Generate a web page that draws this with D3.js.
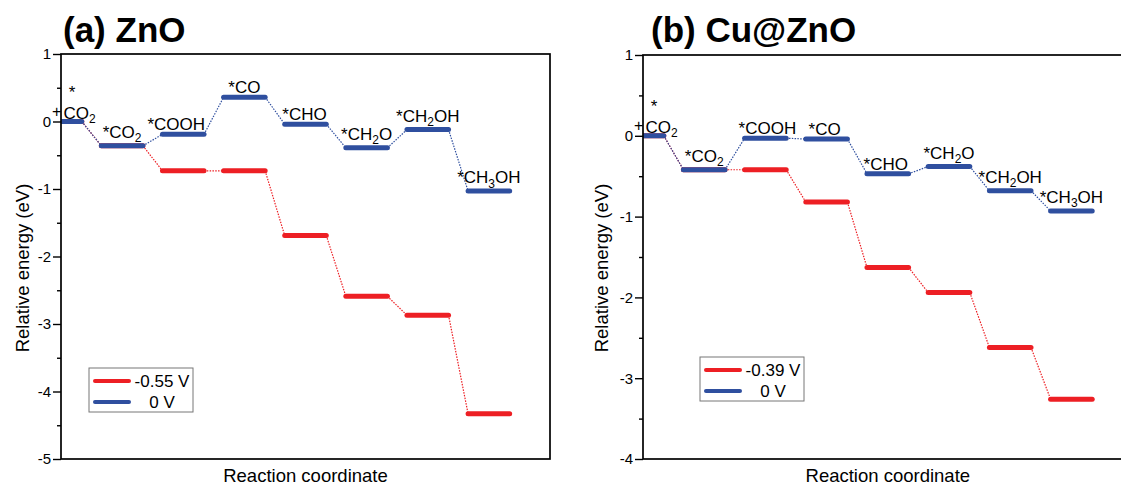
<!DOCTYPE html>
<html>
<head>
<meta charset="utf-8">
<script src="https://cdn.jsdelivr.net/npm/d3@7"></script>
<style>
  html, body { margin: 0; padding: 0; background: #fff; }
  svg { display: block; font-family: "Liberation Sans", Arial, sans-serif; }
</style>
</head>
<body>
<svg id="chart" width="1121" height="486"></svg>
<script>
// intermediates along the reaction path (same order in both panels)
const steps = ["* + CO_2", "*CO_2", "*COOH", "*CO", "*CHO", "*CH_2O", "*CH_2OH", "*CH_3OH"];

// (a) ZnO
const znoZero = [0, -0.36, -0.19, 0.36, -0.04, -0.39, -0.12, -1.03];
const znoBias = [0, -0.36, -0.73, -0.73, -1.69, -2.59, -2.87, -4.33];
const znoBiasLabel = "-0.55 V";
const znoTicks = [1, 0, -1, -2, -3, -4, -5];

// (b) Cu@ZnO
const cuZero = [0, -0.42, -0.03, -0.04, -0.47, -0.38, -0.68, -0.93];
const cuBias = [0, -0.42, -0.42, -0.82, -1.63, -1.94, -2.62, -3.26];
const cuBiasLabel = "-0.39 V";
const cuTicks = [1, 0, -1, -2, -3, -4];

const RED = "#ed1f24";
const BLUE = "#2f4f9f";
const barHalf = 0.34; // half width of a level, in step units

const svg = d3.select("#chart");

function drawPanel(cfg) {
    const x = d3.scaleLinear().domain([0, 8]).range(cfg.xRange);
    const y = d3.scaleLinear().domain([d3.min(cfg.ticks), d3.max(cfg.ticks)]).range(cfg.yRange);
    const [left, right] = cfg.xRange;
    const [bottom, top] = cfg.yRange;

    const g = svg.append("g");
    const clipId = "clip-" + cfg.id;
    g.append("clipPath").attr("id", clipId)
        .append("rect").attr("x", left).attr("y", top).attr("width", right - left).attr("height", bottom - top);

    // title
    g.append("text").attr("x", cfg.titleX).attr("y", 42)
        .attr("font-size", 35).attr("font-weight", "bold").text(cfg.title);

    // y axis with minor ticks
    const minor = d3.range(d3.min(cfg.ticks) + 0.5, d3.max(cfg.ticks), 1);
    g.append("g").attr("transform", `translate(${left},0)`)
        .call(d3.axisLeft(y).tickValues(minor).tickSize(4).tickFormat(""))
        .call((a) => a.select(".domain").remove())
        .selectAll("line").attr("stroke-width", 1.4);
    g.append("g").attr("transform", `translate(${left},0)`)
        .call(d3.axisLeft(y).tickValues(cfg.ticks).tickSize(8).tickPadding(2).tickFormat((d) => String(d)))
        .call((a) => a.select(".domain").remove())
        .call((a) => a.selectAll("line").attr("stroke-width", 1.4))
        .selectAll("text").attr("font-size", 15).attr("font-family", "Liberation Sans, Arial, sans-serif");

    const plot = g.append("g").attr("clip-path", `url(#${clipId})`);

    function series(values, color) {
        const conn = d3.pairs(values.map((v, i) => [i, v]));
        plot.append("g").selectAll("line").data(conn).join("line")
            .attr("x1", (d) => x(d[0][0] + barHalf)).attr("y1", (d) => y(d[0][1]))
            .attr("x2", (d) => x(d[1][0] - barHalf)).attr("y2", (d) => y(d[1][1]))
            .attr("stroke", color).attr("stroke-width", 1.2).attr("stroke-dasharray", "1.5,1.3");
        plot.append("g").selectAll("line").data(values).join("line")
            .attr("x1", (d, i) => x(i - barHalf)).attr("x2", (d, i) => x(i + barHalf))
            .attr("y1", (d) => y(d)).attr("y2", (d) => y(d))
            .attr("stroke", color).attr("stroke-width", 5).attr("stroke-linecap", "round");
    }
    series(cfg.bias, RED);
    series(cfg.zero, BLUE);

    // labels over the 0 V levels
    function addLabel(sel, str) {
        str.split(/_(\d)/).forEach((part, k) => {
            if (!part) return;
            if (k % 2 === 1) {
                sel.append("tspan").attr("font-size", 12).attr("dy", 4.5).text(part);
            } else {
                sel.append("tspan").attr("dy", k > 0 ? -4.5 : 0).text(part);
            }
        });
    }
    const lbl = g.append("g").attr("font-size", 17).attr("fill", "#000");
    cfg.zero.forEach((v, i) => {
        if (i === 0) {
            lbl.append("text").attr("x", x(0) + 11).attr("y", y(v) - 24).attr("text-anchor", "middle").text("*");
            lbl.append("text").attr("x", x(0) - 9).attr("y", y(v) - 5).attr("font-size", 16).text("+");
            addLabel(lbl.append("text").attr("x", x(0) + 2.5).attr("y", y(v) - 3), "CO_2");
            return;
        }
        const sub = steps[i].includes("_");
        addLabel(lbl.append("text").attr("x", x(i) + (cfg.shift[i] || 0)).attr("y", y(v) - (sub ? 8 : 4))
            .attr("text-anchor", "middle"), steps[i]);
    });

    // frame
    g.append("rect").attr("x", left).attr("y", top).attr("width", right - left).attr("height", bottom - top)
        .attr("fill", "none").attr("stroke", "#000").attr("stroke-width", 1.7);

    // axis titles
    g.append("text").attr("transform", `translate(${cfg.yTitleX},268) rotate(-90)`)
        .attr("text-anchor", "middle").attr("font-size", 18.5).text("Relative energy (eV)");
    g.append("text").attr("x", x(4)).attr("y", 482)
        .attr("text-anchor", "middle").attr("font-size", 18.5).text("Reaction coordinate");

    // legend
    const lg = g.append("g").attr("transform", `translate(${cfg.legend[0]},${cfg.legend[1]})`);
    lg.append("rect").attr("width", 104).attr("height", 44)
        .attr("fill", "#fff").attr("stroke", "#777").attr("stroke-width", 1);
    [[RED, cfg.biasLabel], [BLUE, "0 V"]].forEach(([c, t], k) => {
        lg.append("line").attr("x1", 6).attr("x2", 40).attr("y1", 13 + k * 21).attr("y2", 13 + k * 21)
            .attr("stroke", c).attr("stroke-width", 4).attr("stroke-linecap", "round");
        lg.append("text").attr("x", 73).attr("y", 19 + k * 21).attr("text-anchor", "middle")
            .attr("font-size", 17).text(t);
    });
}

drawPanel({
    id: "a", title: "(a) ZnO", titleX: 63,
    zero: znoZero, bias: znoBias, biasLabel: znoBiasLabel, ticks: znoTicks,
    xRange: [61, 550], yRange: [459, 54],
    yTitleX: 29, legend: [89, 368], shift: { 2: -7, 4: -1 }
});

drawPanel({
    id: "b", title: "(b) Cu@ZnO", titleX: 651,
    zero: cuZero, bias: cuBias, biasLabel: cuBiasLabel, ticks: cuTicks,
    xRange: [643, 643 + 61.2 * 8], yRange: [459, 55],
    yTitleX: 608, legend: [700, 357], shift: { 2: 2, 3: -2, 4: -2 }
});
</script>
</body>
</html>
